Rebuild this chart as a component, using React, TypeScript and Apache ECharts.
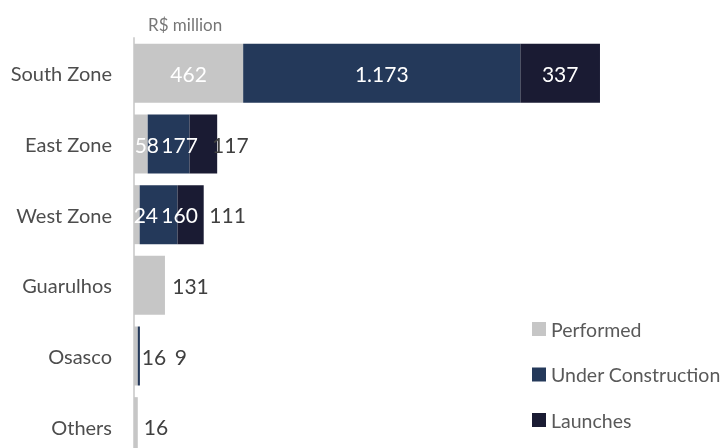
import React, { useEffect, useRef } from "react";
import * as echarts from "echarts";

const categories = ["South Zone", "East Zone", "West Zone", "Guarulhos", "Osasco", "Others"];
const performed = [462, 58, 24, 131, 16, 16];
const underConstruction = [1173, 177, 160, 0, 9, 0];
const launches = [337, 117, 111, 0, 0, 0];
const seriesNames = ["Performed", "Under Construction", "Launches"];
const unitLabel = "R$ million";

const colors = ["#c6c6c6", "#24395a", "#1a1b33"];
const FONT = "Lato, 'Noto Sans', sans-serif";

// label placement tweaks (dx from segment centre, dark = outside-style text)
const labelShift: Record<string, Record<number, [number, boolean]>> = {
  Performed: { 1: [6, false], 2: [9, false], 3: [41, true], 4: [18, true], 5: [20, true] },
  "Under Construction": { 1: [11, false], 2: [21, false], 4: [42, true] },
  Launches: { 1: [27, true], 2: [37, true] },
};

const fmt = (v: number) => String(v).replace(/\B(?=(\d{3})+(?!\d))/g, ".");

export default function App() {
  const ref = useRef<HTMLDivElement>(null);
  useEffect(() => {
    if (!ref.current) return;
    const chart = echarts.init(ref.current, undefined, { renderer: "svg" });
    const lists = [performed, underConstruction, launches];
    const series = seriesNames.map((name, si) => ({
      name,
      type: "bar",
      stack: "total",
      barWidth: 59,
      itemStyle: { color: colors[si] },
      label: {
        show: true,
        position: "inside",
        color: "#ffffff",
        fontSize: 21,
        fontFamily: FONT,
        formatter: (p: any) => (p.value ? fmt(p.value) : ""),
      },
      data: lists[si].map((v, i) => {
        const s = labelShift[name][i];
        if (!s) return v;
        return {
          value: v,
          label: { offset: [s[0], 0], color: s[1] ? "#404040" : "#ffffff" },
        };
      }),
    }));
    chart.setOption({
      animation: false,
      textStyle: { fontFamily: FONT },
      title: {
        text: unitLabel,
        left: 143,
        top: 11,
        textStyle: { fontSize: 17, fontWeight: "normal", color: "#767676", fontFamily: FONT },
      },
      legend: {
        orient: "vertical",
        left: 527,
        top: 314,
        itemWidth: 14,
        itemHeight: 14,
        itemGap: 25.5,
        icon: "rect",
        textStyle: { fontSize: 19.5, color: "#595959", fontFamily: FONT, lineHeight: 20 },
        data: seriesNames,
      },
      grid: { left: 134, top: 38, width: 472.6, height: 424, containLabel: false },
      xAxis: {
        type: "value",
        min: 0,
        max: 2000,
        show: false,
      },
      yAxis: {
        type: "category",
        data: categories,
        inverse: true,
        axisTick: { show: false },
        axisLine: { show: true, lineStyle: { color: "#d4d4d4", width: 2 } },
        axisLabel: { margin: 22, fontSize: 20, color: "#4d4d4d", fontFamily: FONT },
      },
      series,
    });
    return () => chart.dispose();
  }, []);
  return (
    <div style={{ position: "fixed", left: 0, top: 0, width: 728, height: 448, overflow: "hidden" }}>
      <div ref={ref} style={{ width: 728, height: 470 }} />
    </div>
  );
}
